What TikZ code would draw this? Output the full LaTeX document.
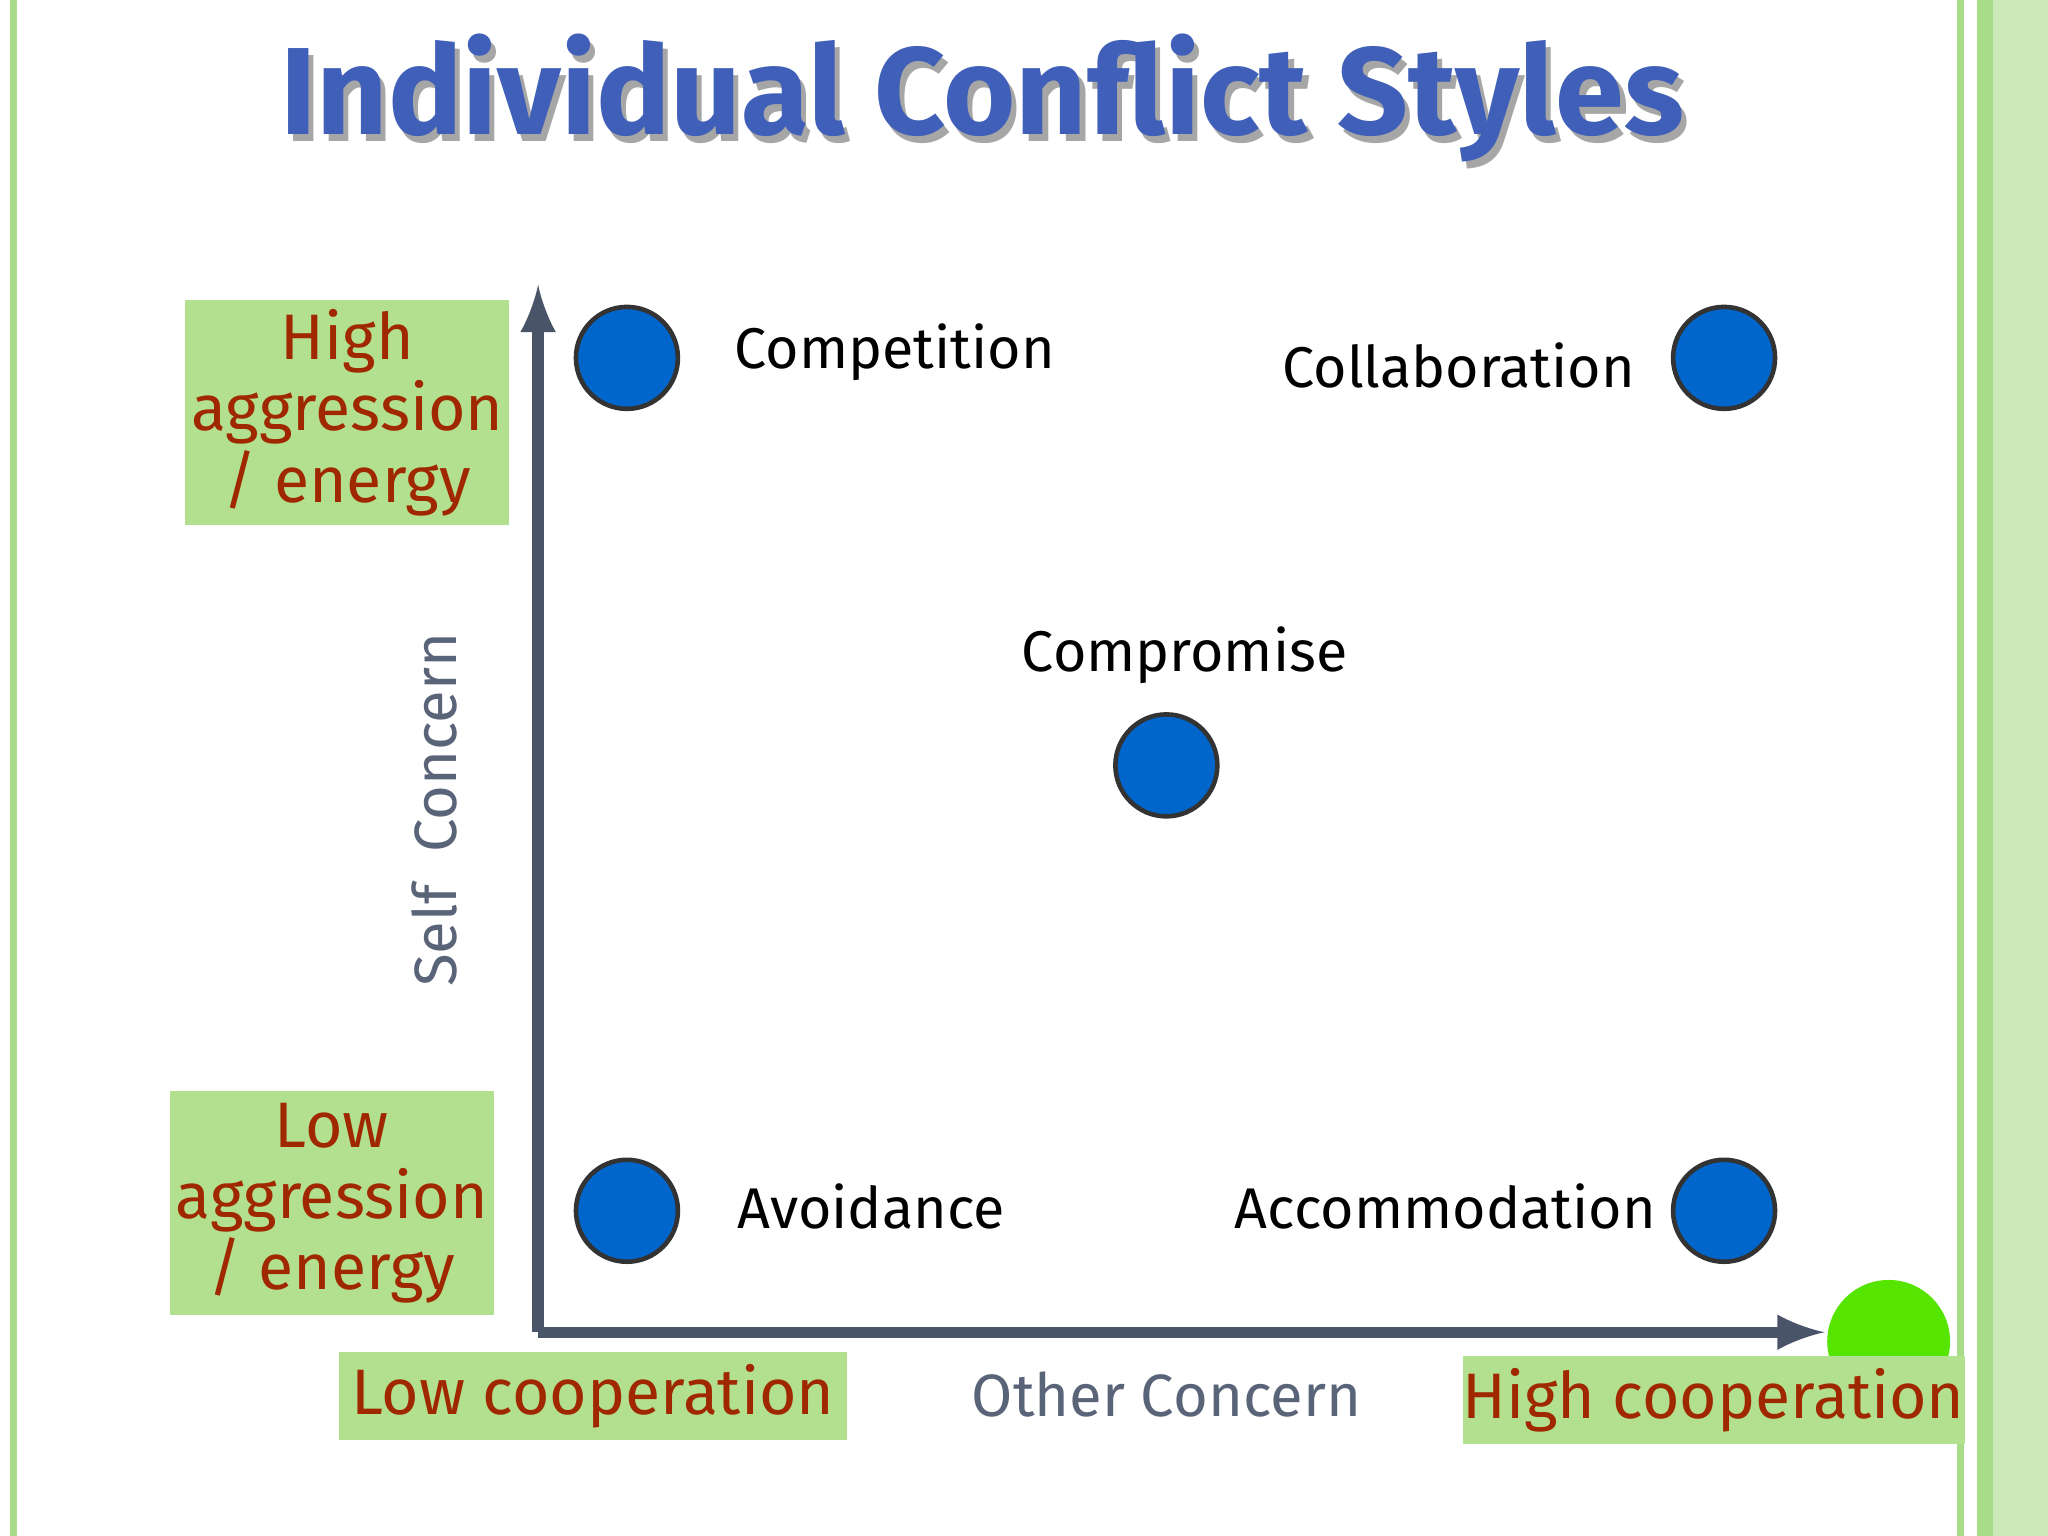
\documentclass[tikz,border=0pt]{standalone}
\usepackage{fontspec}
\setmainfont{Fira Sans}
\definecolor{ttl}{HTML}{3F5FB8}
\definecolor{axc}{HTML}{4A5468}
\definecolor{dotb}{HTML}{0066CC}
\definecolor{boxg}{HTML}{B3E08F}
\definecolor{redt}{HTML}{A02800}
\definecolor{gr}{HTML}{5A6478}
\definecolor{brd}{HTML}{A8DC88}
\tikzset{
 dot/.style={circle,draw=black!80,line width=1pt,fill=dotb,minimum size=0.78cm,inner sep=0pt},
 gbox/.style={fill=boxg,text=redt,align=center,font=\fontsize{14}{15.5}\selectfont,inner sep=0pt},
 lbl/.style={font=\fontsize{12.5}{14}\selectfont,text=black},
 axl/.style={font=\fontsize{13}{15}\selectfont,text=gr},
}
\begin{document}
\begin{tikzpicture}[x=0.01cm,y=-0.01cm]
\useasboundingbox (0,0) rectangle (1568,1176);
\fill[white] (0,0) rectangle (1568,1176);
% borders
\fill[brd] (8,0) rectangle (13,1176);
\fill[brd] (1498,0) rectangle (1504,1176);
\fill[brd] (1514,0) rectangle (1526,1176);
\fill[brd!60] (1526,0) rectangle (1568,1176);
% title
\node[text=black!35,font=\bfseries\fontsize{27}{30}\selectfont] at (756,80) {Individual Conflict Styles};
\node[text=ttl,font=\bfseries\fontsize{27}{30}\selectfont] (title) at (752,75) {Individual Conflict Styles};
% axes
\coordinate (o) at (412,1020);
\coordinate (ytop) at (412,218);
\coordinate (xend) at (1397,1020);
\draw[axc,line width=2.5pt,-latex] (o) -- (ytop);
\draw[axc,line width=2.5pt,-latex] (o) -- (xend);
% green circle
\node[circle,fill=green!50!lime!90!black,minimum size=0.94cm,inner sep=0pt] (gc) at (1446,1027) {};
% boxes
\node[gbox,minimum width=2.48cm,minimum height=1.72cm] (hi) at (266,316) {High\\aggression\\/ energy};
\node[gbox,minimum width=2.48cm,minimum height=1.72cm] (lo) at (254,921) {Low\\aggression\\/ energy};
\node[gbox,minimum width=3.88cm,minimum height=0.67cm] (lc) at (454,1069) {Low cooperation};
\node[gbox,minimum width=3.76cm,minimum height=0.67cm] (hc) at (1312,1072) {High cooperation};
% dots
\node[dot] (d1) at (480,274) {};
\node[dot] (d2) at (1320,274) {};
\node[dot] (d3) at (893,586) {};
\node[dot] (d4) at (480,927) {};
\node[dot] (d5) at (1320,927) {};
% labels
\node[lbl,anchor=west] (l1) at (550,270) {Competition};
\node[lbl,anchor=east] (l2) at (1264,280) {Collaboration};
\node[lbl] (l3) at (907,502) {Compromise};
\node[lbl,anchor=west] (l4) at (552,924) {Avoidance};
\node[lbl,anchor=east] (l5) at (1280,924) {Accommodation};
\node[axl,rotate=90] (sc) at (333,620) {Self\ \ Concern};
\node[axl] (oc) at (893,1068) {Other Concern};
\end{tikzpicture}
\end{document}
